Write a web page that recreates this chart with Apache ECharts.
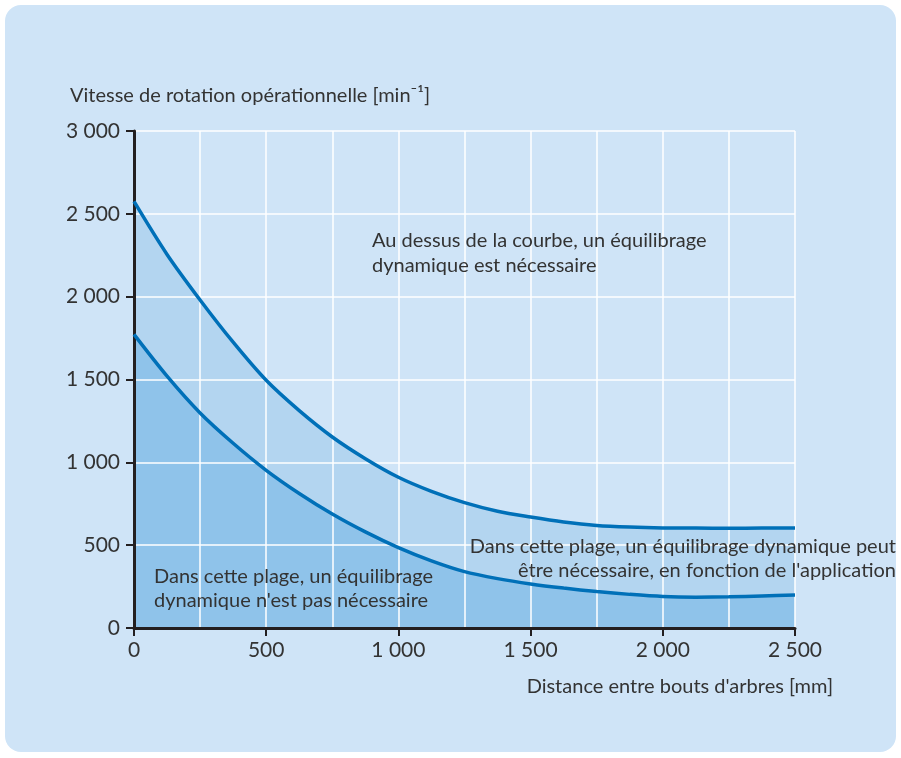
<!DOCTYPE html>
<html>
<head>
<meta charset="utf-8">
<script src="https://cdn.jsdelivr.net/npm/echarts@6/dist/echarts.min.js"></script>
<style>
  html, body { margin: 0; padding: 0; background: #ffffff; }
  #chart { width: 901px; height: 758px; }
</style>
</head>
<body>
<div id="chart"></div>
<script>
// distance entre bouts d'arbres (mm)
var distances = [0, 125, 250, 375, 500, 625, 750, 875, 1000, 1125, 1250,
                 1375, 1500, 1625, 1750, 1875, 2000, 2125, 2250, 2375, 2500];
// limite haute : au dessus, équilibrage nécessaire
var upperSpeed = [2575, 2255, 1980, 1725, 1495, 1312, 1153, 1022, 910, 825, 757,
                  705, 670, 640, 619, 609, 604, 603, 602, 603, 604];
// limite basse : en dessous, pas nécessaire
var lowerSpeed = [1772, 1520, 1298, 1115, 952, 812, 688, 580, 485, 405, 340,
                  298, 266, 241, 220, 203, 190, 186, 188, 193, 199];

var fontFam = 'Lato, "Noto Sans", sans-serif';
var txt = '#333333';

function pairs(ys) {
  var out = [];
  for (var i = 0; i < distances.length; i++) out.push([distances[i], ys[i]]);
  return out;
}

function fmt(v) {
  return String(v).replace(/\B(?=(\d{3})+(?!\d))/g, ' ');
}

var axisCommon = {
  type: 'value',
  z: 3,
  axisLine: { show: true, lineStyle: { color: '#231f20', width: 3 } },
  axisTick: { show: true, length: 8, lineStyle: { color: '#231f20', width: 2 } },
  axisLabel: { color: txt, fontSize: 21, fontFamily: fontFam, formatter: fmt },
  splitLine: { show: true, lineStyle: { color: '#ffffff', width: 1.5 } }
};

var option = {
  animation: false,
  graphic: [
    { type: 'rect', z: -10, shape: { x: 5, y: 5, width: 891, height: 747, r: 16 }, style: { fill: '#cfe4f7' } },
    { type: 'text', z: 10, left: 70, top: 86, style: { text: 'Vitesse de rotation opérationnelle [min⁻¹]', fill: txt, font: '20px ' + fontFam } },
    { type: 'text', z: 10, right: 68, top: 677, style: { text: "Distance entre bouts d'arbres [mm]", fill: txt, font: '20px ' + fontFam } },
    { type: 'text', z: 10, left: 372, top: 228, style: { text: 'Au dessus de la courbe, un équilibrage\ndynamique est nécessaire', fill: txt, font: '20px ' + fontFam, lineHeight: 25 } },
    { type: 'text', z: 10, right: 5, top: 537, style: { text: 'Dans cette plage, un équilibrage dynamique peut', fill: txt, font: '20px ' + fontFam } },
    { type: 'text', z: 10, right: 5, top: 561, style: { text: "être nécessaire, en fonction de l'application", fill: txt, font: '20px ' + fontFam } },
    { type: 'text', z: 10, left: 154, top: 565, style: { text: "Dans cette plage, un équilibrage\ndynamique n'est pas nécessaire", fill: txt, font: '20px ' + fontFam, lineHeight: 24 } }
  ],
  grid: { left: 134, top: 131, width: 661, height: 497, containLabel: false },
  xAxis: Object.assign({}, axisCommon, {
    min: 0, max: 2500, interval: 500,
    axisLabel: Object.assign({}, axisCommon.axisLabel, { margin: 12 }),
    minorTick: { show: false, splitNumber: 2 },
    minorSplitLine: { show: true, lineStyle: { color: '#ffffff', width: 1.5 } }
  }),
  yAxis: Object.assign({}, axisCommon, {
    min: 0, max: 3000, interval: 500,
    axisLabel: Object.assign({}, axisCommon.axisLabel, { margin: 14 })
  }),
  series: [
    {
      type: 'line', name: 'zone haute', data: pairs(upperSpeed), smooth: 0.3, symbol: 'none', z: 1,
      lineStyle: { width: 0 }, areaStyle: { color: '#b3d5f0', opacity: 1 }
    },
    {
      type: 'line', name: 'zone basse', data: pairs(lowerSpeed), smooth: 0.3, symbol: 'none', z: 2,
      lineStyle: { width: 0 }, areaStyle: { color: '#8fc3ea', opacity: 1 }
    },
    {
      type: 'line', name: 'limite haute', data: pairs(upperSpeed), smooth: 0.3, symbol: 'none', z: 5,
      lineStyle: { width: 3.5, color: '#0070b8' }
    },
    {
      type: 'line', name: 'limite basse', data: pairs(lowerSpeed), smooth: 0.3, symbol: 'none', z: 5,
      lineStyle: { width: 3.5, color: '#0070b8' }
    }
  ]
};

var chart = echarts.init(document.getElementById('chart'));
chart.setOption(option);
</script>
</body>
</html>
